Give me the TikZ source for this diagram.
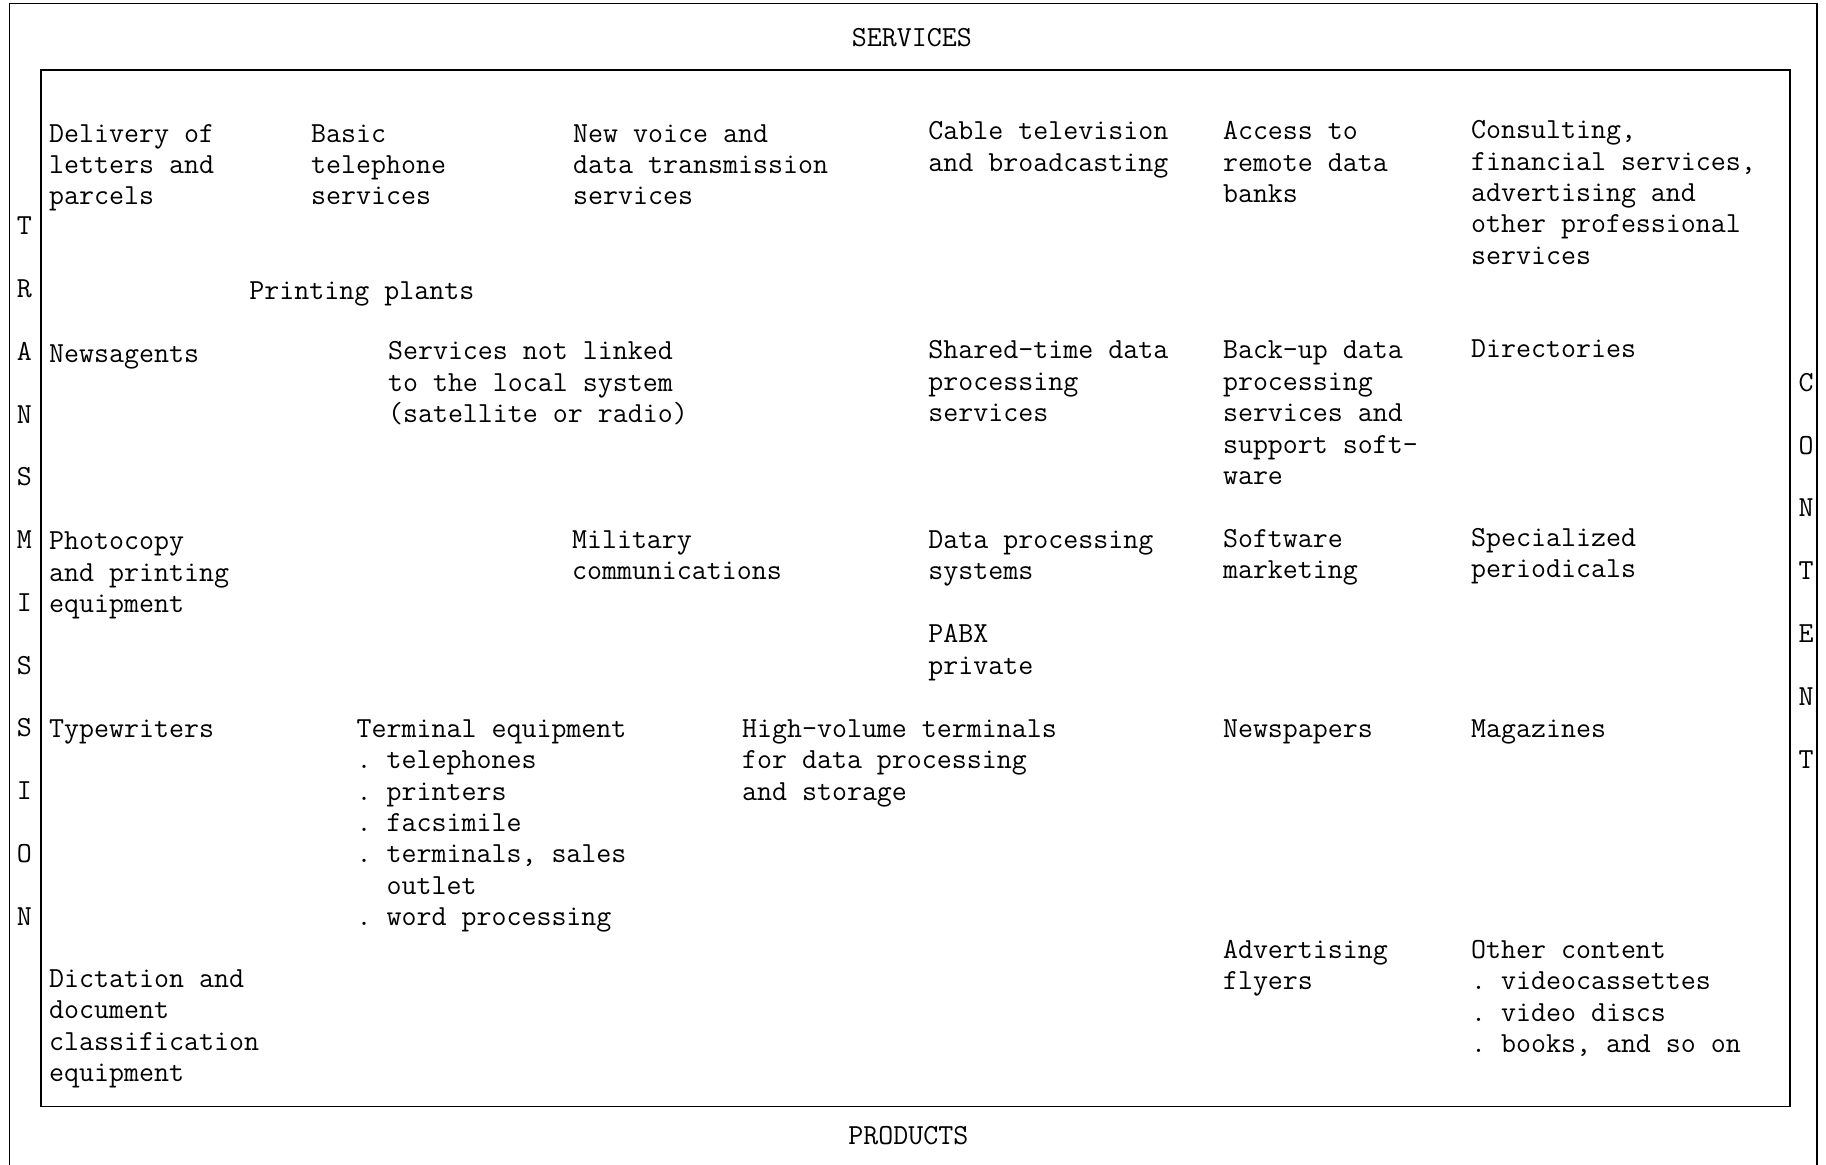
\documentclass[tikz,border=0pt]{standalone}
\usepackage{fontspec}
\setmonofont{Latin Modern Mono}
\begin{document}
\begin{tikzpicture}[x=1pt,y=-1pt,
  txt/.style={anchor=base west,inner sep=0pt,align=left,font=\ttfamily\fontsize{25}{27}\selectfont},
  lbl/.style={anchor=base,inner sep=0pt,font=\ttfamily\fontsize{25}{27}\selectfont},
  vert/.style={anchor=base,inner sep=0pt,align=center,font=\ttfamily\fontsize{25}{53.9}\selectfont},
  frame/.style={line width=1.4pt}]
\useasboundingbox (0,0) rectangle (1568,1000);
\draw[frame] (8,1000) -- (8,3) -- (1560,3) -- (1560,1000);
\draw[frame] (35,60) rectangle (1537,950);

% base anchors below refer to the baseline of each text's last line
\node[lbl] (services) at (783,40) {SERVICES};
\node[lbl] (products) at (780,983) {PRODUCTS};
\node[vert] (transmission) at (21,794.5) {T\\R\\A\\N\\S\\M\\I\\S\\S\\I\\O\\N};
\node[vert] (content) at (1551,659.5) {C\\O\\N\\T\\E\\N\\T};

\node[txt] (delivery) at (42,176) {Delivery of\\letters and\\parcels};
\node[txt] (basic) at (267,176) {Basic\\telephone\\services};
\node[txt] (newvoice) at (492,176) {New voice and\\data transmission\\services};
\node[txt] (cable) at (797,147) {Cable television\\and broadcasting};
\node[txt] (access) at (1050,174) {Access to\\remote data\\banks};
\node[txt] (consulting) at (1263,227) {Consulting,\\financial services,\\advertising and\\other professional\\services};

\node[txt] (printing) at (214,257) {Printing plants};
\node[txt] (newsagents) at (42,311) {Newsagents};
\node[txt] (notlinked) at (333,363) {Services not linked\\to the local system\\(satellite or radio)};
\node[txt] (shared) at (797,362) {Shared-time data\\processing\\services};
\node[txt] (backup) at (1050,416) {Back-up data\\processing\\services and\\support soft-\\ware};
\node[txt] (directories) at (1263,307) {Directories};

\node[txt] (photocopy) at (42,526) {Photocopy\\and printing\\equipment};
\node[txt] (military) at (491,498) {Military\\communications};
\node[txt] (dataproc) at (797,498) {Data processing\\systems};
\node[txt] (software) at (1050,497) {Software\\marketing};
\node[txt] (periodicals) at (1263,496) {Specialized\\periodicals};
\node[txt] (pabx) at (797,579) {PABX\\private};

\node[txt] (typewriters) at (42,633) {Typewriters};
\node[txt] (terminal) at (306,795) {Terminal equipment\\.\ telephones\\.\ printers\\.\ facsimile\\.\ terminals, sales\\\ \ outlet\\.\ word processing};
\node[txt] (highvolume) at (637,687) {High-volume terminals\\for data processing\\and storage};
\node[txt] (newspapers) at (1050,633) {Newspapers};
\node[txt] (magazines) at (1263,633) {Magazines};

\node[txt] (flyers) at (1050,850) {Advertising\\flyers};
\node[txt] (other) at (1263,904) {Other content\\.\ videocassettes\\.\ video discs\\.\ books, and so on};
\node[txt] (dictation) at (42,929) {Dictation and\\document\\classification\\equipment};
\end{tikzpicture}
\end{document}
